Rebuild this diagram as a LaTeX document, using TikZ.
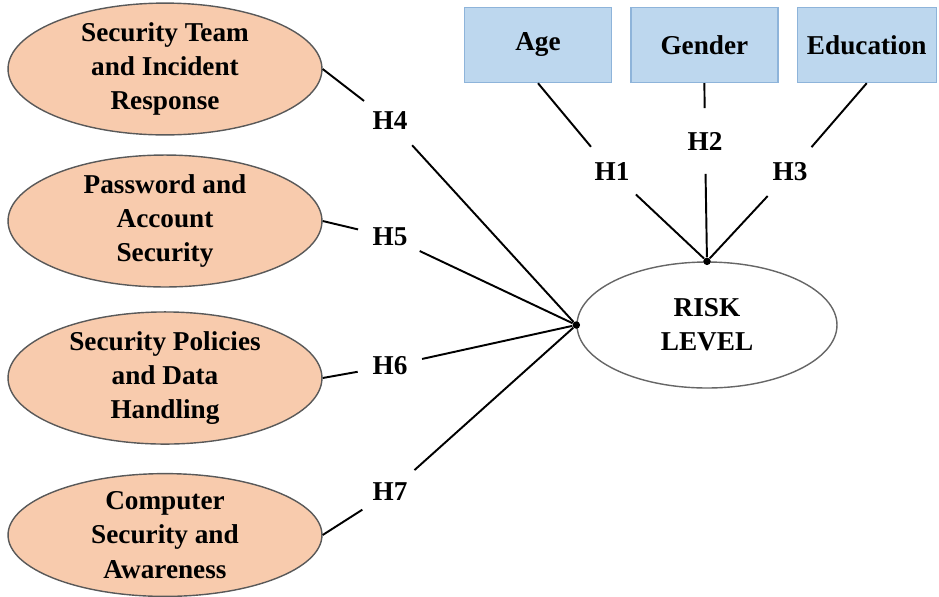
\documentclass[tikz,border=0pt]{standalone}
\usepackage{fontspec}
\setmainfont{LiberationSerif}[Extension=.ttf,UprightFont=*-Regular,BoldFont=*-Bold]
\usepackage{xcolor}
\usetikzlibrary{shapes.geometric,positioning}
\definecolor{peach}{HTML}{F8CBAD}
\definecolor{boxblue}{HTML}{BDD7EE}
\definecolor{boxline}{HTML}{8EB4DA}

\begin{document}
\begin{tikzpicture}[x=0.02cm,y=-0.02cm, font=\fontsize{15.5}{19.5}\selectfont\bfseries, factor/.style={ellipse,draw=black!65,line width=0.8pt,fill=peach,minimum width=6.28cm,minimum height=2.42cm,align=center,inner sep=0pt}, demo/.style={draw=boxline,line width=0.8pt,fill=boxblue,minimum width=2.94cm,minimum height=1.5cm}, hyp/.style={circle,minimum size=1.3cm,inner sep=0pt}, jdot/.style={circle,fill=black,inner sep=0pt,minimum size=0.15cm}, link/.style={line width=1.1pt}]
\useasboundingbox (0,0) rectangle (939,596);
% outcome
\node[ellipse,draw=black!60,line width=0.8pt,minimum width=5.2cm,minimum height=2.52cm,align=center] (risk) at (707,325) {RISK\\LEVEL};
\node[jdot] (jtop) at (risk.north) {};
\node[jdot] (jleft) at (risk.west) {};
% control variables
\node[demo] (age) at (538,45) {Age};
\node[demo,right=0.36cm of age] (gender) {Gender};
\node[demo,minimum width=2.78cm,right=0.36cm of gender] (edu) {Education};
% predictors
\node[factor] (team) at (165,69) {Security Team\\and Incident\\Response};
\node[factor] (pass) at (165,221) {Password and\\Account\\Security};
\node[factor] (policy) at (165,378) {Security Policies\\and Data\\Handling};
\node[factor] (aware) at (165,535) {Computer\\Security and\\Awareness};
% hypotheses
\node[hyp] (h1) at (612,172) {H1};
\node[hyp] (h2) at (705,141) {H2};
\node[hyp] (h3) at (790,172) {H3};
\node[hyp] (h4) at (390,121) {H4};
\node[hyp] (h5) at (390,237) {H5};
\node[hyp] (h6) at (390,366) {H6};
\node[hyp] (h7) at (390,492) {H7};
\draw[link] (age.south) -- (h1) -- (jtop);
\draw[link] (gender.south) -- (h2) -- (jtop);
\draw[link] (edu.south) -- (h3) -- (jtop);
\draw[link] (team.east) -- (h4) -- (jleft);
\draw[link] (pass.east) -- (h5) -- (jleft);
\draw[link] (policy.east) -- (h6) -- (jleft);
\draw[link] (aware.east) -- (h7) -- (jleft);
\end{tikzpicture}
\end{document}
